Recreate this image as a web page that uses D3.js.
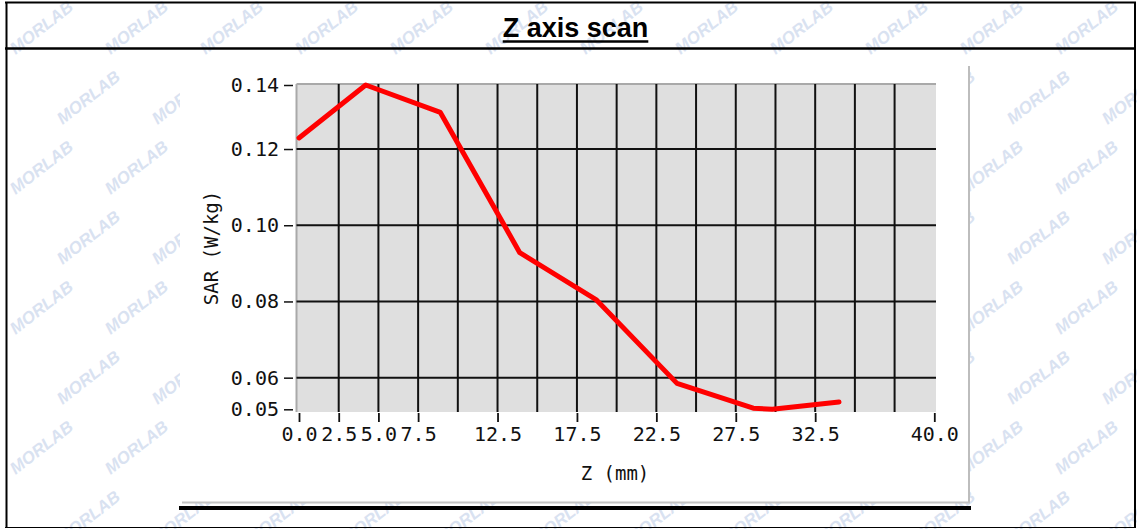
<!DOCTYPE html>
<html>
<head>
<meta charset="utf-8">
<script src="https://cdn.jsdelivr.net/npm/d3@7"></script>
<style>
  html, body { margin: 0; padding: 0; background: #fff; }
  svg { display: block; }
</style>
</head>
<body>
<svg id="chart" width="1137" height="529"></svg>
<script>
// ---- data ----
const zValues   = [0.0, 4.2, 8.9, 13.9, 18.7, 23.8, 28.6, 29.8, 34.0];      // Z (mm)
const sarValues = [0.1229, 0.1368, 0.1296, 0.0928, 0.0805, 0.0585, 0.0520, 0.0517, 0.0536]; // SAR (W/kg)
const xTickValues = [0, 2.5, 5, 7.5, 12.5, 17.5, 22.5, 27.5, 32.5, 40];
const xGridValues = [2.5, 5, 7.5, 10, 12.5, 15, 17.5, 20, 22.5, 25, 27.5, 30, 32.5, 35, 37.5];
const yInnerTicks = [0.06, 0.08, 0.10, 0.12];
const titleText = "Z axis scan";
const xTitle = "Z (mm)";
const yTitle = "SAR (W/kg)";
const watermark = "MORLAB";

const svg = d3.select("#chart");

// ---- watermarks (decorative background tiling) ----
const wm = svg.append("g").attr("fill", "#d9e2f1").attr("font-family", "Liberation Sans, Arial, sans-serif")
  .attr("font-weight", "bold").attr("font-style", "italic").attr("font-size", 17);
for (let j = 0; j < 8; j++) {
  for (let i = 0; i < 12; i++) {
    const cx = 45 + i * 95 + (j % 2) * 47;
    const cy = 32 + j * 70;
    wm.append("text").attr("transform", `translate(${cx},${cy}) rotate(-38)`)
      .attr("text-anchor", "middle").text(watermark);
  }
}

// ---- table frame ----
const frame = svg.append("g").attr("stroke", "#000");
frame.append("line").attr("x1", 5).attr("x2", 1136).attr("y1", 2.5).attr("y2", 2.5).attr("stroke-width", 2);
frame.append("line").attr("x1", 5).attr("x2", 1136).attr("y1", 48.5).attr("y2", 48.5).attr("stroke-width", 2.5);
frame.append("line").attr("x1", 6.5).attr("x2", 6.5).attr("y1", 2).attr("y2", 528).attr("stroke-width", 2);
frame.append("line").attr("x1", 1135).attr("x2", 1135).attr("y1", 2).attr("y2", 528).attr("stroke-width", 2);
frame.append("line").attr("x1", 5).attr("x2", 1136).attr("y1", 527.5).attr("y2", 527.5).attr("stroke-width", 1);

// ---- title ----
const title = svg.append("text").attr("x", 575.5).attr("y", 37)
  .attr("text-anchor", "middle").attr("font-family", "Liberation Sans, Arial, sans-serif")
  .attr("font-weight", "bold").attr("font-size", 27).attr("fill", "#000").text(titleText);
const tl = title.node().getComputedTextLength();
svg.append("line").attr("x1", 575.5 - tl / 2).attr("x2", 575.5 + tl / 2)
  .attr("y1", 41.5).attr("y2", 41.5).attr("stroke", "#000").attr("stroke-width", 2.5);

// ---- chart image container ----
svg.append("rect").attr("x", 180).attr("y", 66).attr("width", 789).attr("height", 437).attr("fill", "#fff");
svg.append("line").attr("x1", 969).attr("x2", 969).attr("y1", 66).attr("y2", 503)
  .attr("stroke", "#bdbdbd").attr("stroke-width", 2);
svg.append("line").attr("x1", 182).attr("x2", 970).attr("y1", 502.5).attr("y2", 502.5)
  .attr("stroke", "#c4c4c4").attr("stroke-width", 2);
svg.append("line").attr("x1", 179).attr("x2", 971).attr("y1", 508).attr("y2", 508)
  .attr("stroke", "#000").attr("stroke-width", 4);

// ---- scales ----
const x = d3.scaleLinear().domain([0, 40]).range([299, 934.3]);
const yExt = d3.extent(sarValues);
const y = d3.scaleLinear().domain(yExt).range([409.3, 85]);
const yTickValues = [yExt[0], ...yInnerTicks, yExt[1]];

const plotL = 296.5, plotR = 936, plotT = 84, plotB = 412;

// plot background
svg.append("rect").attr("x", plotL).attr("y", plotT).attr("width", plotR - plotL).attr("height", plotB - plotT)
  .attr("fill", "#dfdfdf");
svg.append("line").attr("x1", plotL).attr("x2", plotR).attr("y1", plotT).attr("y2", plotT)
  .attr("stroke", "#a9a9a9").attr("stroke-width", 2);
svg.append("line").attr("x1", plotL).attr("x2", plotL).attr("y1", plotT).attr("y2", plotB)
  .attr("stroke", "#a9a9a9").attr("stroke-width", 2);

// grid
const grid = svg.append("g").attr("stroke", "#111").attr("stroke-width", 2);
grid.selectAll("line.v").data(xGridValues).join("line").attr("class", "v")
  .attr("x1", d => x(d)).attr("x2", d => x(d)).attr("y1", plotT).attr("y2", plotB);
grid.selectAll("line.h").data(yInnerTicks).join("line").attr("class", "h")
  .attr("x1", plotL).attr("x2", plotR).attr("y1", d => y(d)).attr("y2", d => y(d));

const monoFont = "DejaVu Sans Mono, Liberation Mono, monospace";

// y axis
const yAxis = svg.append("g").attr("transform", "translate(293,0)")
  .call(d3.axisLeft(y).tickValues(yTickValues).tickFormat(d3.format(".2f")).tickSize(9).tickPadding(5));
yAxis.select(".domain").remove();
yAxis.selectAll(".tick line").attr("stroke", "#111").attr("stroke-width", 1.5);
yAxis.selectAll(".tick text").attr("font-family", monoFont).attr("font-size", 20).attr("fill", "#111");

// x axis
const xAxis = svg.append("g").attr("transform", `translate(0,${plotB})`)
  .call(d3.axisBottom(x).tickValues(xTickValues).tickFormat(d3.format(".1f")).tickSize(10).tickPadding(5));
xAxis.select(".domain").remove();
xAxis.selectAll(".tick line").attr("stroke", "#111").attr("stroke-width", 1.8).attr("y1", 1);
xAxis.selectAll(".tick text").attr("font-family", monoFont).attr("font-size", 20).attr("fill", "#111");

// axis titles
svg.append("text").attr("x", 615).attr("y", 480).attr("text-anchor", "middle")
  .attr("font-family", monoFont).attr("font-size", 19).attr("fill", "#111").text(xTitle);
svg.append("text").attr("transform", "translate(218,248) rotate(-90)").attr("text-anchor", "middle")
  .attr("font-family", monoFont).attr("font-size", 19).attr("fill", "#111").text(yTitle);

// data line
const line = d3.line().x((d, i) => x(zValues[i])).y(d => y(d));
svg.append("path").datum(sarValues).attr("d", line).attr("fill", "none")
  .attr("stroke", "#ff0000").attr("stroke-width", 5).attr("stroke-linejoin", "round").attr("stroke-linecap", "round");
</script>
</body>
</html>
